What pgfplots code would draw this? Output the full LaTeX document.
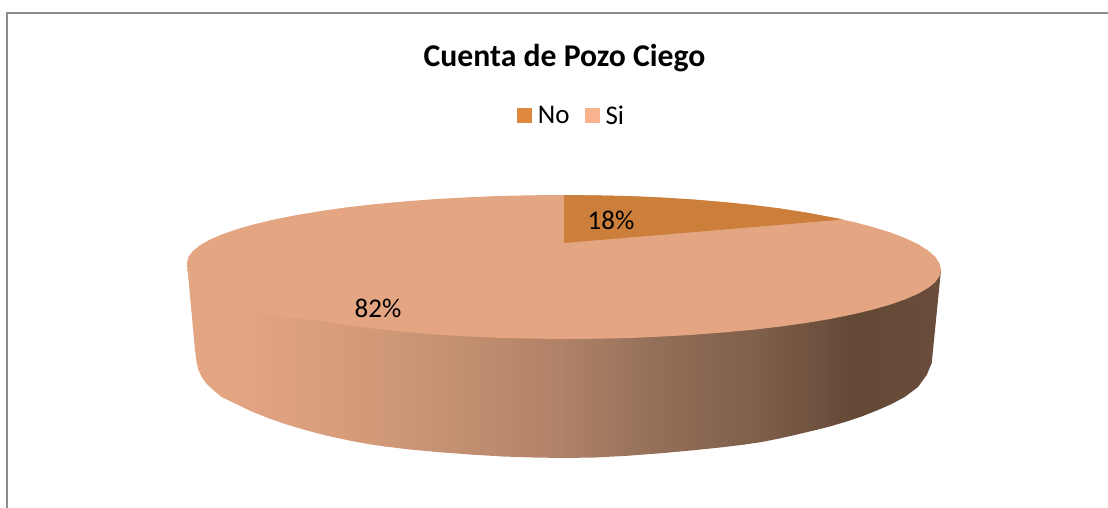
\documentclass[border=0pt]{standalone}
\usepackage{pgfplots}
\pgfplotsset{compat=1.18}
\usepackage{fontspec}
\setmainfont{Carlito}
\definecolor{siTop}{HTML}{E4A583}
\definecolor{noTop}{HTML}{CC7F3A}
\definecolor{siLeg}{HTML}{F8B28E}
\definecolor{noLeg}{HTML}{DD873F}
\definecolor{frame}{HTML}{8C8C8C}
\definecolor{sa}{HTML}{D29A79}
\definecolor{sb}{HTML}{BC8A6D}
\definecolor{sc}{HTML}{B08268}
\definecolor{sd}{HTML}{936E58}
\definecolor{se}{HTML}{7F5E4A}
\definecolor{sf}{HTML}{644937}
\definecolor{sg}{HTML}{6A4D3A}
\pgfdeclarehorizontalshading{sideshade}{100bp}{
  color(0bp)=(siTop); color(25bp)=(siTop); color(28bp)=(siTop);
  color(37bp)=(sa);
  color(45.8bp)=(sb);
  color(49.7bp)=(sc);
  color(56.4bp)=(sd);
  color(63bp)=(se);
  color(69bp)=(sf);
  color(75bp)=(sg);
  color(100bp)=(sg)}
\begin{document}
\begin{tikzpicture}
\begin{axis}[
  scale only axis, width=1108pt, height=508pt,
  xmin=0, xmax=1108, ymin=0, ymax=508, y dir=reverse,
  hide axis,
  title={\bfseries Cuenta de Pozo Ciego},
  title style={at={(axis description cs:0.5095,0.874)}, anchor=center, font=\fontsize{31.7}{34}\selectfont},
  legend style={at={(axis description cs:0.5158,0.772)}, anchor=center, draw=none, fill=none,
    font=\fontsize{27}{29}\selectfont, legend columns=2,
    /tikz/every even column/.append style={column sep=13pt},
    nodes={inner sep=2pt}},
  legend image code/.code={\fill[#1] (0pt,-7.5pt) rectangle (15pt,7.5pt);},
]
\addlegendimage{fill=noLeg, draw=none}
\addlegendentry{\hspace{4pt}No}
\addlegendimage{fill=siLeg, draw=none}
\addlegendentry{\hspace{4pt}Si}
% frame
\addplot[frame, line width=2pt, forget plot] coordinates {(7,508) (7,13) (1108,13)};
% side wall
\addplot[shading=sideshade, draw=none, forget plot] coordinates {
(187,263)(195,350)(196.7,363)(198.5,370)(201.7,377)(205.5,382.5)(210,387)(215.5,392)(221.7,397)(235,403.5)(251.7,411.5)(268,418)(285,424)(301.7,429)(318,433.5)(335,437.5)(351.7,441)(368,444)(385,446.5)(410,449.5)(437,452)(470,454.5)(503,456.5)(533,457.5)(563,458)(595,457.5)(627,455.8)(660,453.3)(693,450.3)(720,447.5)(745,444.5)(761.7,442)(778,438.8)(795,435)(811.7,431)(828,427)(845,422)(861.7,416.5)(878,410)(891.7,404)(905,396.8)(918,387)(926.7,375)(931.7,363)(933,350)(941,270)(187,263)};
% Si top
\addplot[fill=siTop, draw=none, forget plot] coordinates {
(187,263)(188.4,257)(192.7,251.2)(199.8,245.4)(209.7,239.7)(222.4,234.2)(237.5,229)(255.2,224)(275.2,219.3)(297,215)(321.6,210.9)(347,207.3)(375.5,204.1)(405,201.4)(435.1,199.1)(466,197.4)(498.4,196)(531,195.3)(564,195)(597,195.4)(629.6,196.1)(661,197.5)(692.9,199.5)(723,202)(752.5,205)(780,208.5)(806.4,212.6)(830,217)(852.8,221.8)(872.8,227)(890.5,232.5)(905.6,238.3)(918.3,244.3)(928.2,250.6)(935.3,257)(939.6,263.5)(941,270)(939.6,276)(935.3,282)(928.2,287.9)(918.3,293.6)(905.6,299.2)(890.5,304.5)(872.8,309.6)(852.8,314.4)(830,319)(806.4,322.9)(780,326.6)(752.5,329.8)(723,332.5)(692.9,334.8)(661,336.6)(629.6,338)(597,338.7)(564,339)(531,338.6)(498.4,337.8)(466,336.3)(435.1,334.4)(405,331.8)(375.5,328.8)(347,325.2)(321.6,321.2)(297,318.3)(275.2,316)(255.2,313)(237.5,307)(222.4,298)(209.7,289)(199.8,283)(192.7,276)(188.4,270)(187,263)};
% No wedge
\addplot[fill=noTop, draw=none, forget plot] coordinates {
(564,243)(564,195)(597,195.4)(629.6,196.1)(661,197.5)(692.9,199.5)(723,202)(752.5,205)(780,208.5)(806.4,212.6)(830,217)(843,219.5)(564,243)};
\node[font=\fontsize{27}{29}\selectfont] at (axis cs:611,220) {18\%};
\node[font=\fontsize{27}{29}\selectfont] at (axis cs:378,308) {82\%};
\end{axis}
\path (0,0) rectangle (1108pt,508pt);
\end{tikzpicture}
\end{document}
